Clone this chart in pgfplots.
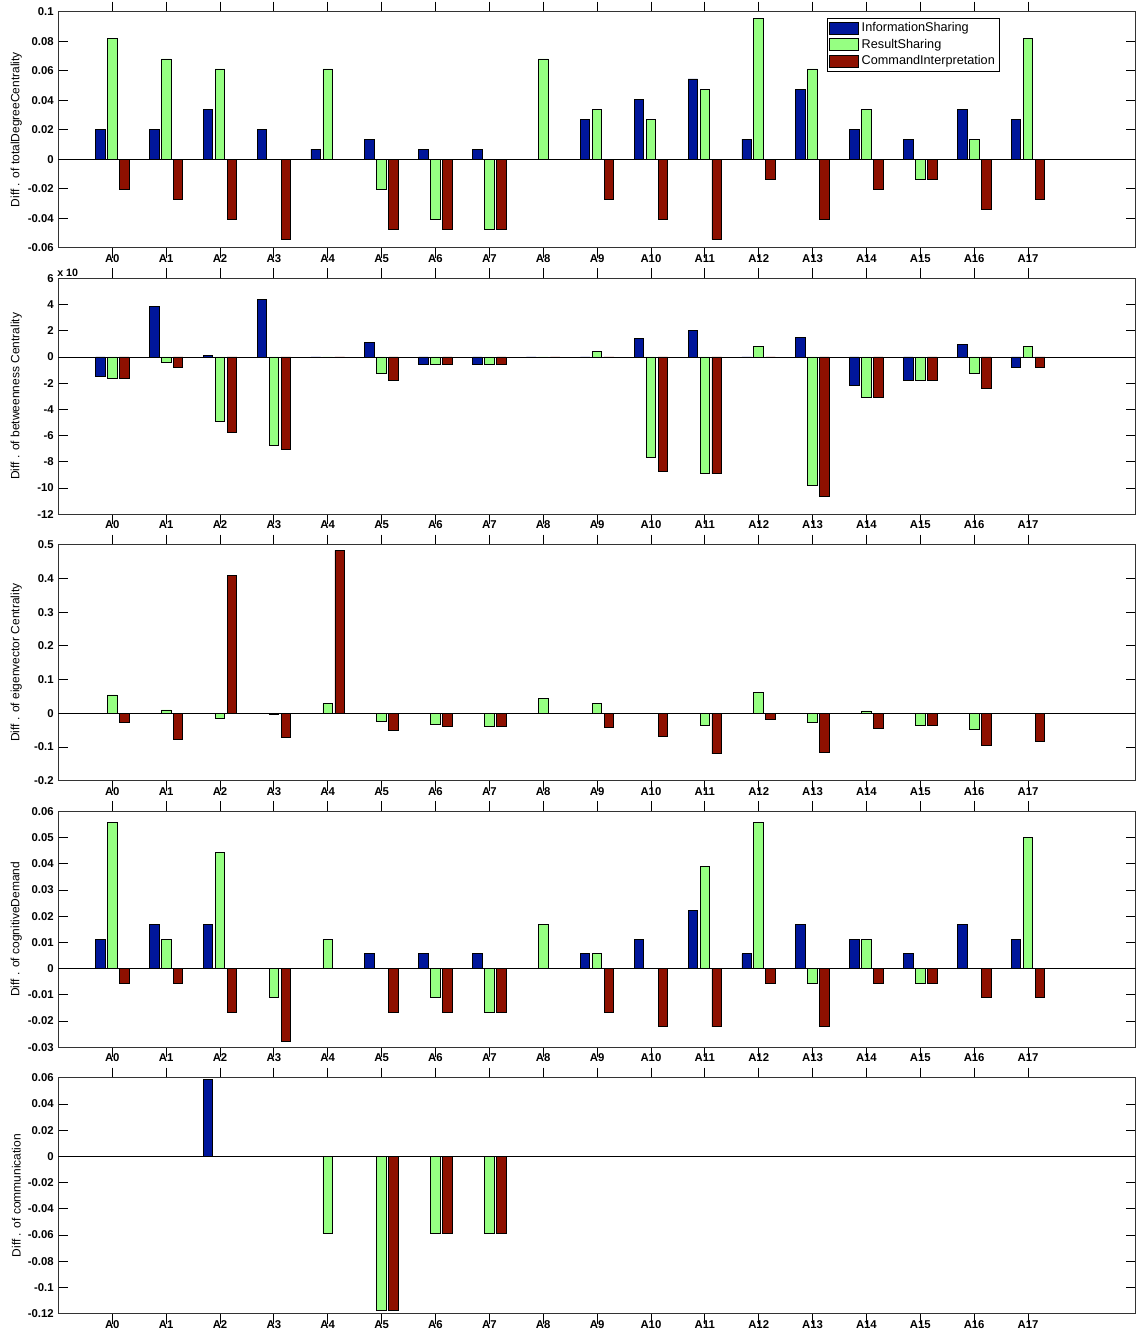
\documentclass[border=0pt]{standalone}
\usepackage{fontspec}
\setmainfont{Liberation Sans}
\usepackage{pgfplots}
\usepackage{pgfplotstable}
\pgfplotsset{compat=1.18}

\definecolor{cblue}{RGB}{0,22,155}
\definecolor{cgreen}{RGB}{150,255,130}
\definecolor{cred}{RGB}{142,16,0}

% columns: x  info  result  command
\pgfplotstableread{
x a b c
0 0.0204 0.0816 -0.0204
1 0.0204 0.0680 -0.0272
2 0.0340 0.0612 -0.0408
3 0.0204 0 -0.0544
4 0.0068 0.0612 0
5 0.0136 -0.0204 -0.0476
6 0.0068 -0.0408 -0.0476
7 0.0068 -0.0476 -0.0476
8 0 0.0680 0
9 0.0272 0.0340 -0.0272
10 0.0408 0.0272 -0.0408
11 0.0544 0.0476 -0.0544
12 0.0136 0.0952 -0.0136
13 0.0476 0.0612 -0.0408
14 0.0204 0.0340 -0.0204
15 0.0136 -0.0136 -0.0136
16 0.0340 0.0136 -0.0340
17 0.0272 0.0816 -0.0272
}\degree

\pgfplotstableread{
x a b c
0 -1.45 -1.63 -1.63
1 3.85 -0.43 -0.83
2 0.10 -4.90 -5.73
3 4.35 -6.73 -7.08
4 0 0 0
5 1.13 -1.28 -1.80
6 -0.55 -0.55 -0.55
7 -0.55 -0.55 -0.55
8 0 0 0
9 0 0.40 0
10 1.40 -7.63 -8.70
11 2.00 -8.90 -8.90
12 0 0.83 0
13 1.45 -9.80 -10.63
14 -2.18 -3.08 -3.08
15 -1.83 -1.83 -1.83
16 0.93 -1.28 -2.38
17 -0.83 0.83 -0.83
}\betw

\pgfplotstableread{
x a b c
0 0 0.0545 -0.0267
1 0 0.0099 -0.0762
2 0 -0.0149 0.408
3 0 -0.0030 -0.0723
4 0 0.0287 0.483
5 0 -0.0228 -0.0515
6 0 -0.0327 -0.0396
7 0 -0.0396 -0.0396
8 0 0.0436 0
9 0 0.0287 -0.0406
10 0 0 -0.0693
11 0 -0.0356 -0.1200
12 0 0.0614 -0.0188
13 0 -0.0257 -0.1160
14 0 0.0069 -0.0446
15 0 -0.0356 -0.0356
16 0 -0.0475 -0.0950
17 0 0 -0.0842
}\eigen

\pgfplotstableread{
x a b c
0 0.0111 0.0556 -0.0056
1 0.0167 0.0111 -0.0056
2 0.0167 0.0444 -0.0167
3 0 -0.0111 -0.0278
4 0 0.0111 0
5 0.0056 0 -0.0167
6 0.0056 -0.0111 -0.0167
7 0.0056 -0.0167 -0.0167
8 0 0.0167 0
9 0.0056 0.0056 -0.0167
10 0.0111 0 -0.0222
11 0.0222 0.0389 -0.0222
12 0.0056 0.0556 -0.0056
13 0.0167 -0.0056 -0.0222
14 0.0111 0.0111 -0.0056
15 0.0056 -0.0056 -0.0056
16 0.0167 0 -0.0111
17 0.0111 0.0500 -0.0111
}\cogn

\pgfplotstableread{
x a b c
0 0 0 0
1 0 0 0
2 0.0590 0 0
3 0 0 0
4 0 -0.0588 0
5 0 -0.1176 -0.1176
6 0 -0.0588 -0.0588
7 0 -0.0588 -0.0588
8 0 0 0
9 0 0 0
10 0 0 0
11 0 0 0
12 0 0 0
13 0 0 0
14 0 0 0
15 0 0 0
16 0 0 0
17 0 0 0
}\comm

\pgfplotsset{
  panel/.style={
    scale only axis,
    width=808pt, height=177pt,
    anchor=north west,
    xmin=-1, xmax=19,
    xtick={0,...,17},
    xticklabels={A0,A1,A2,A3,A4,A5,A6,A7,A8,A9,A10,A11,A12,A13,A14,A15,A16,A17},
    scaled y ticks=false,
    tick align=inside,
    major tick length=7.5pt,
    tick style={black, line width=0.6pt},
    axis line style={black!80, line width=0.8pt},
    ticklabel style={font=\fontsize{8.5}{10}\selectfont\bfseries},
    xticklabel style={yshift=6.5pt, text height=6.2pt, text depth=0pt},
    every axis y label/.style={at={(axis description cs:-0.039,0.5)}, rotate=90, anchor=center, font=\fontsize{9}{10}\selectfont},
    ybar,
    bar width=0.178,
    clip=true,
  },
  bA/.style={fill=cblue, draw=black, line width=0.6pt, bar shift=-0.2222},
  bB/.style={fill=cgreen, draw=black, line width=0.6pt, bar shift=0},
  bC/.style={fill=cred, draw=black, line width=0.6pt, bar shift=0.2222},
}

\begin{document}
\begin{tikzpicture}
% Panel 1
\begin{axis}[panel, at={(0pt,0pt)},
  ymin=-0.06, ymax=0.1,
  ytick={-0.06,-0.04,-0.02,0,0.02,0.04,0.06,0.08,0.1},
  yticklabels={-0.06,-0.04,-0.02,0,0.02,0.04,0.06,0.08,0.1},
  ylabel={Diff . of totalDegreeCentrality},
  legend style={at={(axis description cs:0.713,0.975)}, anchor=north west,
    draw=black, line width=0.6pt, inner sep=1.5pt, row sep=0pt,
    font=\fontsize{9.5}{11}\selectfont,
    /tikz/every even column/.append style={column sep=0pt}},
  legend image code/.code={\draw[#1, bar shift=0pt] (0pt,-4.5pt) rectangle (22pt,4.5pt);},
  legend cell align=left,
]
\addplot[bA] table[x=x,y=a]{\degree};
\addplot[bB] table[x=x,y=b]{\degree};
\addplot[bC] table[x=x,y=c]{\degree};
\legend{InformationSharing,ResultSharing,CommandInterpretation}
\draw[black, line width=0.6pt] (axis cs:-1,0) -- (axis cs:19,0);
\end{axis}
% Panel 2
\begin{axis}[panel, at={(0pt,-199.875pt)},
  ymin=-12, ymax=6,
  ytick={-12,-10,-8,-6,-4,-2,0,2,4,6},
  yticklabels={-12,-10,-8,-6,-4,-2,0,2,4,6},
  ylabel={Diff . of betweenness Centrality},
]
\addplot[bA] table[x=x,y=a]{\betw};
\addplot[bB] table[x=x,y=b]{\betw};
\addplot[bC] table[x=x,y=c]{\betw};
\draw[black, line width=0.6pt] (axis cs:-1,0) -- (axis cs:19,0);
\end{axis}
\node[anchor=south west, inner sep=0pt, font=\fontsize{8}{9}\selectfont\bfseries] at (-1pt,-198.5pt) {x 10};
% Panel 3
\begin{axis}[panel, at={(0pt,-399.75pt)},
  ymin=-0.2, ymax=0.5,
  ytick={-0.2,-0.1,0,0.1,0.2,0.3,0.4,0.5},
  yticklabels={-0.2,-0.1,0,0.1,0.2,0.3,0.4,0.5},
  ylabel={Diff . of eigenvector Centrality},
]
\addplot[bA] table[x=x,y=a]{\eigen};
\addplot[bB] table[x=x,y=b]{\eigen};
\addplot[bC] table[x=x,y=c]{\eigen};
\draw[black, line width=0.6pt] (axis cs:-1,0) -- (axis cs:19,0);
\end{axis}
% Panel 4
\begin{axis}[panel, at={(0pt,-599.625pt)},
  ymin=-0.03, ymax=0.06,
  ytick={-0.03,-0.02,-0.01,0,0.01,0.02,0.03,0.04,0.05,0.06},
  yticklabels={-0.03,-0.02,-0.01,0,0.01,0.02,0.03,0.04,0.05,0.06},
  ylabel={Diff . of cognitiveDemand},
]
\addplot[bA] table[x=x,y=a]{\cogn};
\addplot[bB] table[x=x,y=b]{\cogn};
\addplot[bC] table[x=x,y=c]{\cogn};
\draw[black, line width=0.6pt] (axis cs:-1,0) -- (axis cs:19,0);
\end{axis}
% Panel 5
\begin{axis}[panel, at={(0pt,-799.5pt)},
  ymin=-0.12, ymax=0.06,
  ytick={-0.12,-0.1,-0.08,-0.06,-0.04,-0.02,0,0.02,0.04,0.06},
  yticklabels={-0.12,-0.1,-0.08,-0.06,-0.04,-0.02,0,0.02,0.04,0.06},
  ylabel={Diff . of communication},
]
\addplot[bA] table[x=x,y=a]{\comm};
\addplot[bB] table[x=x,y=b]{\comm};
\addplot[bC] table[x=x,y=c]{\comm};
\draw[black, line width=0.6pt] (axis cs:-1,0) -- (axis cs:19,0);
\end{axis}
\pgfresetboundingbox
\path (-43.8pt,8.8pt) rectangle (809.7pt,-988.7pt);
\end{tikzpicture}
\end{document}
